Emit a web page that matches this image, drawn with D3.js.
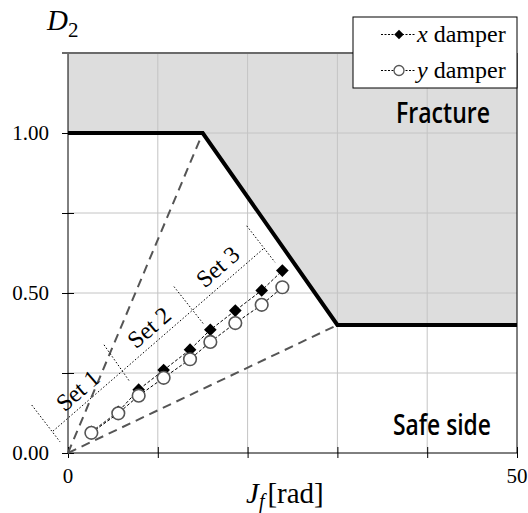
<!DOCTYPE html>
<html><head><meta charset="utf-8">
<script src="https://cdn.jsdelivr.net/npm/d3@7"></script>
<style>body{margin:0;background:#fff}svg{display:block}</style>
</head><body>
<script>
// ---- data ----
const jf = [2.6, 5.6, 7.87, 10.65, 13.59, 15.85, 18.63, 21.57, 23.87];
const xDamper = [0.066, 0.129, 0.198, 0.259, 0.323, 0.385, 0.445, 0.508, 0.570];
const yDamper = [0.063, 0.124, 0.179, 0.235, 0.293, 0.347, 0.406, 0.463, 0.518];
const fractureBoundary = [[0, 1.0], [15, 1.0], [30, 0.4], [50, 0.4]];
const guideLines = [[[0, 0], [15, 1.0]], [[0, 0], [30, 0.4]]];
const setAxis = [[-1.67, 0.0685], [21.75, 0.638]];
const setTicks = [
  [[-4.04, 0.150], [-0.89, 0.035]],
  [[4.01, 0.338], [6.9, 0.222]],
  [[11.8, 0.520], [15.07, 0.404]],
  [[19.9, 0.710], [23.05, 0.596]]
];
const setLabels = [{t: "Set 1", x: 1.06, y: 0.196}, {t: "Set 2", x: 9.02, y: 0.393}, {t: "Set 3", x: 16.65, y: 0.583}];
const xTicks = [0, 10, 20, 30, 40, 50];
const xTickLabels = {0: "0", 50: "50"};
const yTicks = [0, 0.25, 0.5, 0.75, 1.0, 1.25];
const yTickLabels = {0: "0.00", 0.5: "0.50", 1: "1.00"};

const W = 528, H = 513;
const m = {l: 68, r: 11, t: 53, b: 60};
const svg = d3.select("body").append("svg").attr("width", W).attr("height", H);
const x = d3.scaleLinear().domain([0, 50]).range([m.l, W - m.r]);
const y = d3.scaleLinear().domain([0, 1.25]).range([H - m.b, m.t]);
const serif = "'Liberation Serif','Times New Roman',serif";

// fracture fill
const fillPts = [[0, 1.25]].concat(fractureBoundary).concat([[50, 1.25]]);
svg.append("path").attr("d", d3.line().x(d => x(d[0])).y(d => y(d[1]))(fillPts) + "Z")
  .attr("fill", "#dddddd");

// grid
svg.append("g").selectAll("line").data(xTicks.filter(d => d > 0 && d < 50)).join("line")
  .attr("x1", d => x(d)).attr("x2", d => x(d)).attr("y1", y(0)).attr("y2", y(1.25))
  .attr("stroke", "#c4c4c4").attr("stroke-width", 1);
svg.append("g").selectAll("line").data(yTicks.filter(d => d > 0 && d < 1.25)).join("line")
  .attr("x1", x(0)).attr("x2", x(50)).attr("y1", d => y(d)).attr("y2", d => y(d))
  .attr("stroke", "#c4c4c4").attr("stroke-width", 1);

// axes
const xAx = svg.append("g").attr("transform", `translate(0,${y(0)})`)
  .call(d3.axisBottom(x).tickValues(xTicks).tickSize(5).tickFormat(""));
xAx.selectAll(".tick line").attr("y1", -6).attr("stroke", "#000");
xAx.select(".domain").remove();
const yAx = svg.append("g").attr("transform", `translate(${x(0)},0)`)
  .call(d3.axisLeft(y).tickValues(yTicks).tickSize(6).tickFormat(""));
yAx.selectAll(".tick line").attr("x1", 6).attr("stroke", "#000");
yAx.select(".domain").remove();
svg.append("line").attr("x1", x(0)).attr("x2", x(50)).attr("y1", y(0)).attr("y2", y(0)).attr("stroke", "#000");
svg.append("line").attr("x1", x(0)).attr("x2", x(0)).attr("y1", y(0)).attr("y2", y(1.25)).attr("stroke", "#000");
svg.append("line").attr("x1", x(50)).attr("x2", x(50)).attr("y1", y(0)).attr("y2", y(1.25)).attr("stroke", "#000");
svg.append("line").attr("x1", x(0) - 6).attr("x2", x(50)).attr("y1", y(1.25)).attr("y2", y(1.25))
  .attr("stroke", "#6a6a6a").attr("stroke-width", 2);

// tick labels
svg.append("g").selectAll("text").data(xTicks.filter(d => xTickLabels[d] !== undefined)).join("text")
  .attr("x", d => x(d)).attr("y", 483).attr("text-anchor", "middle")
  .attr("font-family", serif).attr("font-size", 21).text(d => xTickLabels[d]);
svg.append("g").selectAll("text").data(yTicks.filter(d => yTickLabels[d] !== undefined)).join("text")
  .attr("x", 49).attr("y", d => y(d) + 6.5).attr("text-anchor", "end")
  .attr("font-family", serif).attr("font-size", 21).text(d => yTickLabels[d]);

// guide dashed lines
svg.append("g").selectAll("path").data(guideLines).join("path")
  .attr("d", d3.line().x(d => x(d[0])).y(d => y(d[1])))
  .attr("stroke", "#555").attr("stroke-width", 2).attr("stroke-dasharray", "9,6").attr("fill", "none");

// fracture boundary
svg.append("path").attr("d", d3.line().x(d => x(d[0])).y(d => y(d[1]))(fractureBoundary))
  .attr("stroke", "#000").attr("stroke-width", 4).attr("fill", "none").attr("stroke-linejoin", "miter");

// set annotation
const lineG = d3.line().x(d => x(d[0])).y(d => y(d[1]));
svg.append("path").attr("d", lineG(setAxis)).attr("stroke", "#000").attr("stroke-width", 1)
  .attr("stroke-dasharray", "1.5,2").attr("fill", "none");
svg.append("g").selectAll("path").data(setTicks).join("path").attr("d", d => lineG(d))
  .attr("stroke", "#000").attr("stroke-width", 1).attr("stroke-dasharray", "1.5,2").attr("fill", "none");
const ang = -Math.atan2(y(setAxis[0][1]) - y(setAxis[1][1]), x(setAxis[1][0]) - x(setAxis[0][0])) * 180 / Math.PI;
svg.append("g").selectAll("text").data(setLabels).join("text")
  .attr("transform", d => `translate(${x(d.x)},${y(d.y)}) rotate(${ang})`)
  .attr("text-anchor", "middle").attr("dy", "0.35em").attr("font-family", serif).attr("font-size", 24).text(d => d.t);

// series
const ptsX = jf.map((j, i) => [j, xDamper[i]]);
const ptsY = jf.map((j, i) => [j, yDamper[i]]);
svg.append("path").attr("d", lineG(ptsX)).attr("stroke", "#000").attr("stroke-width", 1)
  .attr("stroke-dasharray", "3,2").attr("fill", "none");
svg.append("path").attr("d", lineG(ptsY)).attr("stroke", "#000").attr("stroke-width", 1)
  .attr("stroke-dasharray", "3,2").attr("fill", "none");
svg.append("g").selectAll("path").data(ptsX).join("path")
  .attr("transform", d => `translate(${x(d[0])},${y(d[1])}) rotate(45)`)
  .attr("d", d3.symbol().type(d3.symbolSquare).size(80)).attr("fill", "#000");
svg.append("g").selectAll("circle").data(ptsY).join("circle")
  .attr("cx", d => x(d[0])).attr("cy", d => y(d[1])).attr("r", 6.3)
  .attr("fill", "#fff").attr("stroke", "#555").attr("stroke-width", 1.6);

// region labels
const casual = "'Open Sans','Noto Sans',sans-serif";
svg.append("text").attr("x", 396).attr("y", 123).attr("font-family", casual).attr("font-size", 28)
  .attr("font-weight", 600)
  .attr("textLength", 94).attr("lengthAdjust", "spacingAndGlyphs").text("Fracture");
svg.append("text").attr("x", 393).attr("y", 435).attr("font-family", casual).attr("font-size", 28)
  .attr("font-weight", 600)
  .attr("textLength", 98).attr("lengthAdjust", "spacingAndGlyphs").text("Safe side");

// legend
const lg = svg.append("g");
lg.append("rect").attr("x", 353).attr("y", 17).attr("width", 164).attr("height", 71)
  .attr("fill", "#fff").attr("stroke", "#000").attr("stroke-width", 1);
const legendRows = [{lab: "x", cy: 34.5, sym: "d"}, {lab: "y", cy: 70.5, sym: "c"}];
legendRows.forEach(r => {
  lg.append("line").attr("x1", 381).attr("x2", 416).attr("y1", r.cy).attr("y2", r.cy)
    .attr("stroke", "#000").attr("stroke-dasharray", "2,1.5");
  if (r.sym === "d") {
    lg.append("path").attr("transform", `translate(399,${r.cy}) rotate(45)`)
      .attr("d", d3.symbol().type(d3.symbolSquare).size(45)).attr("fill", "#000");
  } else {
    lg.append("circle").attr("cx", 399).attr("cy", r.cy).attr("r", 5).attr("fill", "#fff")
      .attr("stroke", "#555").attr("stroke-width", 1.3);
  }
  const t = lg.append("text").attr("x", 417).attr("y", r.cy + 7).attr("font-family", serif).attr("font-size", 24);
  t.append("tspan").attr("font-style", "italic").text(r.lab);
  t.append("tspan").text(" damper");
});

// axis titles
const yt = svg.append("text").attr("x", 47).attr("y", 30).attr("font-family", serif);
yt.append("tspan").attr("font-style", "italic").attr("font-size", 29).text("D");
yt.append("tspan").attr("font-size", 21).attr("dy", 7).text("2");
const xt = svg.append("text").attr("x", 246).attr("y", 503).attr("font-family", serif);
xt.append("tspan").attr("font-style", "italic").attr("font-size", 29).text("J");
xt.append("tspan").attr("font-style", "italic").attr("font-size", 20).attr("dy", 5).text("f");
xt.append("tspan").attr("font-size", 29).attr("dy", -5).attr("dx", 3).text("[rad]");
</script>
</body></html>
